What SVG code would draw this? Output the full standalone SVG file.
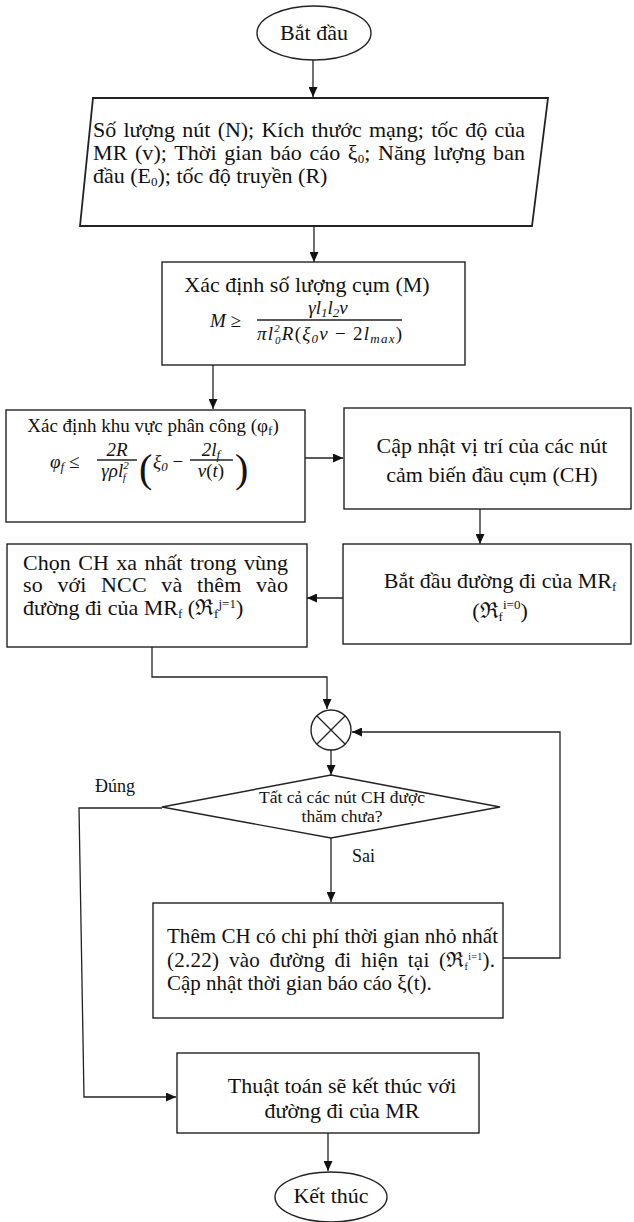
<svg xmlns="http://www.w3.org/2000/svg" width="634" height="1222" viewBox="0 0 634 1222">
<style>
.s{fill:#fff;stroke:#222;stroke-width:1.4}
.c{fill:none;stroke:#222;stroke-width:1.3}
.t{font-family:"Liberation Serif","Times New Roman",serif;font-size:22px;fill:#111}
.m{font-family:"Liberation Serif","Times New Roman",serif;font-size:19px;font-style:italic;fill:#111}
.mu{font-family:"Liberation Serif","Times New Roman",serif;font-size:19px;fill:#111}
.n{font-style:normal}
.sm{font-size:13px}
.xs{font-size:11px}
.mid{text-anchor:middle}
</style>
<defs>
<marker id="a" markerWidth="10" markerHeight="9" refX="10" refY="4.5" orient="auto" markerUnits="userSpaceOnUse">
<path d="M0,0 L10,4.5 L0,9 z" fill="#111"/>
</marker>
</defs>
<rect width="634" height="1222" fill="#fff"/>
<g id="connectors">
<line class="c" x1="313" y1="60" x2="313" y2="97" marker-end="url(#a)"/>
<line class="c" x1="314" y1="226" x2="314" y2="262" marker-end="url(#a)"/>
<line class="c" x1="213" y1="365" x2="213" y2="409" marker-end="url(#a)"/>
<line class="c" x1="305" y1="458" x2="343" y2="458" marker-end="url(#a)"/>
<line class="c" x1="480" y1="509" x2="480" y2="544" marker-end="url(#a)"/>
<line class="c" x1="343" y1="598" x2="307" y2="598" marker-end="url(#a)"/>
<polyline class="c" points="152,647 152,677 327,677 327,709" marker-end="url(#a)"/>
<line class="c" x1="331" y1="750" x2="331" y2="775" marker-end="url(#a)"/>
<line class="c" x1="331" y1="838" x2="331" y2="902" marker-end="url(#a)"/>
<polyline class="c" points="503,958 560,958 560,732 352,732" marker-end="url(#a)"/>
<polyline class="c" points="162,808 79,808 84,1097 176,1097" marker-end="url(#a)"/>
<line class="c" x1="328" y1="1133" x2="328" y2="1171" marker-end="url(#a)"/>
</g>
<g id="start">
<ellipse class="s" cx="314" cy="33" rx="57" ry="27"/>
<text class="t mid" x="314" y="40">Bắt đầu</text>
</g>
<g id="input">
<polygon class="s" points="93,98 548,98 532,226 80,226" style="stroke-width:1.8"/>
<text class="t" x="93" y="137" textLength="432" lengthAdjust="spacing" style="word-spacing:2px">Số lượng nút (N); Kích thước mạng; tốc độ của</text>
<text class="t" x="93" y="160" textLength="432" lengthAdjust="spacing" style="word-spacing:2px">MR (v); Thời gian báo cáo ξ<tspan class="sm" dy="3">0</tspan><tspan dy="-3">; Năng lượng ban</tspan></text>
<text class="t" x="93" y="183">đầu (E<tspan class="sm" dy="3">0</tspan><tspan dy="-3">); tốc độ truyền (R)</tspan></text>
</g>
<g id="clusters">
<rect class="s" x="162" y="262" width="303" height="103"/>
<text class="t mid" x="307" y="292">Xác định số lượng cụm (M)</text>
<text class="m" x="210" y="327">M <tspan class="n">≥</tspan></text>
<text class="m mid" x="328" y="314">γl<tspan class="sm" dy="3">1</tspan><tspan dy="-3">l</tspan><tspan class="sm" dy="3">2</tspan><tspan dy="-3">v</tspan></text>
<line class="c" x1="257" y1="320" x2="402" y2="320"/>
<text class="m" x="257" y="340" textLength="145" lengthAdjust="spacing">πl<tspan class="xs" dy="-8">2</tspan><tspan class="xs" dx="-6" dy="12">0</tspan><tspan dy="-4">R</tspan><tspan class="n">(</tspan>ξ<tspan class="sm" dy="3">0</tspan><tspan dy="-3">v </tspan><tspan class="n">− 2</tspan>l<tspan class="sm" dy="3">max</tspan><tspan dy="-3" class="n">)</tspan></text>
</g>
<g id="area">
<rect class="s" x="6" y="410" width="299" height="112"/>
<text class="t mid" x="153" y="432" style="font-size:19px">Xác định khu vực phân công (φ<tspan class="sm" dy="3">f</tspan><tspan dy="-3">)</tspan></text>
<text class="m" x="50" y="468">φ<tspan class="sm" dy="3">f</tspan><tspan dy="-3" class="n"> ≤</tspan></text>
<text class="m mid" x="117" y="456">2R</text>
<line class="c" x1="97" y1="460" x2="137" y2="460"/>
<text class="m mid" x="115" y="477">γρl<tspan class="xs" dy="-8">2</tspan><tspan class="xs" dx="-6" dy="12">f</tspan></text>
<text class="mu" x="139" y="482" style="font-size:40px">(</text>
<text class="m" x="153" y="468">ξ<tspan class="sm" dy="3">0</tspan><tspan dy="-3" class="n"> −</tspan></text>
<text class="m mid" x="211" y="456">2l<tspan class="sm" dy="3">f</tspan></text>
<line class="c" x1="190" y1="460" x2="233" y2="460"/>
<text class="m mid" x="211" y="477">v<tspan class="n">(</tspan>t<tspan class="n">)</tspan></text>
<text class="mu" x="235" y="482" style="font-size:40px">)</text>
</g>
<g id="update">
<rect class="s" x="344" y="408" width="287" height="101"/>
<text class="t mid" x="492" y="453">Cập nhật vị trí của các nút</text>
<text class="t mid" x="492" y="482">cảm biến đầu cụm (CH)</text>
</g>
<g id="startpath">
<rect class="s" x="343" y="544" width="288" height="100"/>
<text class="t mid" x="500" y="588">Bắt đầu đường đi của MR<tspan class="sm" dy="3">f</tspan></text>
<text class="t mid" x="500" y="618">(ℜ<tspan class="sm" dy="3">f</tspan><tspan class="sm" dy="-12">i=0</tspan><tspan dy="9">)</tspan></text>
</g>
<g id="choose">
<rect class="s" x="7" y="544" width="300" height="103"/>
<text class="t" x="23" y="570" textLength="265" lengthAdjust="spacing" style="word-spacing:2px">Chọn CH xa nhất trong vùng</text>
<text class="t" x="23" y="592" textLength="265" lengthAdjust="spacing" style="word-spacing:9px">so với NCC và thêm vào</text>
<text class="t" x="23" y="615">đường đi của MR<tspan class="sm" dy="3">f</tspan><tspan dy="-3"> (ℜ</tspan><tspan class="sm" dy="3">f</tspan><tspan class="sm" dy="-10">j=1</tspan><tspan dy="7">)</tspan></text>
</g>
<g id="merge">
<circle class="s" cx="331" cy="730" r="20"/>
<line class="c" x1="317" y1="716" x2="345" y2="744"/>
<line class="c" x1="345" y1="716" x2="317" y2="744"/>
</g>
<g id="decision">
<polygon class="s" points="331,775 500,807 331,838 162,807"/>
<text class="t mid" x="342" y="803" style="font-size:17.5px">Tất cả các nút CH được</text>
<text class="t mid" x="342" y="822" style="font-size:17.5px">thăm chưa?</text>
<text class="t" x="95" y="792" style="font-size:18px">Đúng</text>
<text class="t" x="352" y="862" style="font-size:18px">Sai</text>
</g>
<g id="add">
<rect class="s" x="153" y="903" width="350" height="115"/>
<text class="t" x="167" y="943" textLength="331" lengthAdjust="spacing" style="font-size:21px">Thêm CH có chi phí thời gian nhỏ nhất</text>
<text class="t" x="167" y="967" textLength="328" lengthAdjust="spacing" style="font-size:21px;word-spacing:4px">(2.22) vào đường đi hiện tại (ℜ<tspan dy="3" style="font-size:10px">f</tspan><tspan dy="-10" style="font-size:10px">i=1</tspan><tspan dy="7">).</tspan></text>
<text class="t" x="167" y="990" style="font-size:21px">Cập nhật thời gian báo cáo ξ(t).</text>
</g>
<g id="finish">
<rect class="s" x="177" y="1053" width="302" height="80"/>
<text class="t mid" x="342" y="1093">Thuật toán sẽ kết thúc với</text>
<text class="t mid" x="342" y="1118">đường đi của MR</text>
</g>
<g id="end">
<ellipse class="s" cx="331" cy="1197" rx="56" ry="25"/>
<text class="t mid" x="331" y="1203">Kết thúc</text>
</g>
</svg>
